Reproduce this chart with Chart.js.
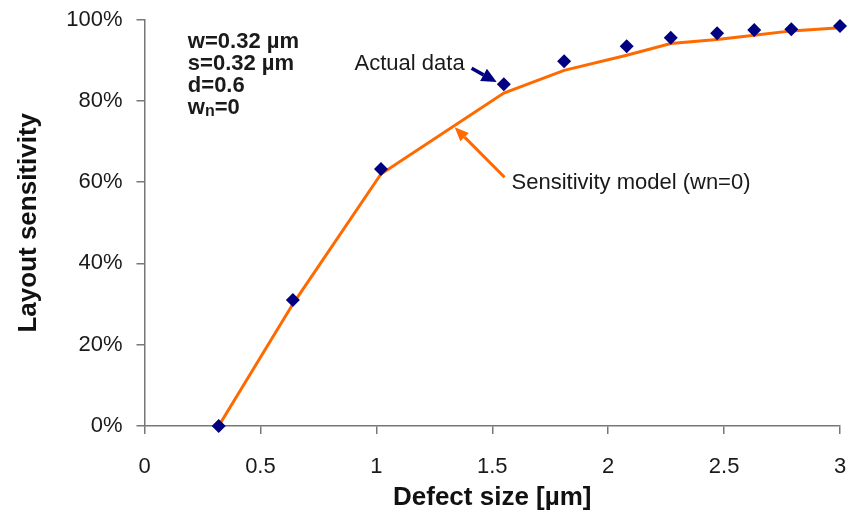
<!DOCTYPE html>
<html>
<head>
    <title>Layout sensitivity</title>
    <script src="https://cdn.jsdelivr.net/npm/chart.js"></script>
    <style>
        body { margin: 0; padding: 0; background: #fff; overflow: hidden; }
        #wrap { position: relative; width: 847px; height: 514px; }
    </style>
</head>
<body>
    <div id="wrap"><canvas id="myChart"></canvas></div>

    <script>
        // Datos
        const defectSize = [0.32, 0.64, 1.02, 1.55, 1.81, 2.08, 2.27, 2.47, 2.63, 2.79, 3.0];
        const actualData = [0.0, 0.31, 0.632, 0.841, 0.897, 0.934, 0.955, 0.966, 0.974, 0.976, 0.984];
        const modelData  = [0.0, 0.30, 0.62, 0.819, 0.875, 0.912, 0.941, 0.951, 0.961, 0.972, 0.980];
        const xTicks = [0, 0.5, 1, 1.5, 2, 2.5, 3];
        const yTicks = [0, 0.2, 0.4, 0.6, 0.8, 1.0];
        const paramLines = ['w=0.32 µm', 's=0.32 µm', 'd=0.6', 'wn=0'];

        const FONT = "'Liberation Sans', Arial, sans-serif";
        const ORANGE = '#ff6a00';
        const NAVY = '#000080';

        function arrow(ctx, x1, y1, x2, y2, color, width, len, half) {
            const a = Math.atan2(y2 - y1, x2 - x1);
            const bx = x2 - len * Math.cos(a), by = y2 - len * Math.sin(a);
            ctx.save();
            ctx.strokeStyle = color;
            ctx.fillStyle = color;
            ctx.lineWidth = width;
            ctx.beginPath();
            ctx.moveTo(x1, y1);
            ctx.lineTo(bx, by);
            ctx.stroke();
            ctx.beginPath();
            ctx.moveTo(x2, y2);
            ctx.lineTo(bx + half * Math.sin(a), by - half * Math.cos(a));
            ctx.lineTo(bx - half * Math.sin(a), by + half * Math.cos(a));
            ctx.closePath();
            ctx.fill();
            ctx.restore();
        }

        // Anotaciones (texto y flechas)
        const notes = {
            id: 'notes',
            afterDatasetsDraw(chart) {
                const ctx = chart.ctx;
                const sx = chart.scales.x, sy = chart.scales.y;
                const px = v => sx.getPixelForValue(v);
                const py = v => sy.getPixelForValue(v);
                ctx.save();
                ctx.fillStyle = '#1a1a1a';
                ctx.textBaseline = 'middle';

                ctx.font = 'bold 22px ' + FONT;
                ctx.textAlign = 'left';
                paramLines.forEach((t, i) => {
                    const y = 42 + i * 22;
                    if (t === 'wn=0') {
                        ctx.fillText('w', px(0.187), y);
                        const w1 = ctx.measureText('w').width;
                        ctx.font = 'bold 16px ' + FONT;
                        ctx.fillText('n', px(0.187) + w1, y + 4);
                        const w2 = ctx.measureText('n').width;
                        ctx.font = 'bold 22px ' + FONT;
                        ctx.fillText('=0', px(0.187) + w1 + w2, y);
                    } else {
                        ctx.fillText(t, px(0.187), y);
                    }
                });

                ctx.font = '22px ' + FONT;
                ctx.textAlign = 'right';
                ctx.fillText('Actual data', px(1.381), py(0.89));
                ctx.textAlign = 'left';
                ctx.fillText('Sensitivity model (wn=0)', px(1.583), py(0.597));
                ctx.restore();

                arrow(ctx, px(1.411), py(0.88), px(1.519), py(0.846), NAVY, 3.5, 15, 7);
                arrow(ctx, px(1.553), py(0.612), px(1.338), py(0.735), ORANGE, 3, 14, 6);
            }
        };

        new Chart(document.getElementById('myChart'), {
            type: 'scatter',
            data: {
                datasets: [{
                    label: 'Sensitivity model (wn=0)',
                    data: defectSize.map((x, i) => ({ x: x, y: modelData[i] })),
                    showLine: true,
                    borderColor: ORANGE,
                    borderWidth: 3,
                    pointRadius: 0,
                    tension: 0,
                    clip: false,
                    order: 2
                }, {
                    label: 'Actual data',
                    data: defectSize.map((x, i) => ({ x: x, y: actualData[i] })),
                    pointStyle: 'rectRot',
                    pointRadius: 7,
                    backgroundColor: NAVY,
                    borderColor: NAVY,
                    borderWidth: 0,
                    clip: false,
                    order: 1
                }]
            },
            options: {
                responsive: true,
                maintainAspectRatio: false,
                animation: false,
                layout: { padding: { top: 19.5, right: 6, left: 0, bottom: 0 } },
                plugins: { legend: { display: false }, tooltip: { enabled: false } },
                scales: {
                    x: {
                        type: 'linear',
                        min: 0, max: 3,
                        afterBuildTicks: s => { s.ticks = xTicks.map(v => ({ value: v })); },
                        afterFit: s => { s.height = 88; s.paddingLeft = 0; s.paddingRight = 0; },
                        border: { color: '#777', width: 1.5 },
                        grid: { drawOnChartArea: false, tickLength: 8, color: '#777', lineWidth: 1.5 },
                        ticks: {
                            color: '#1a1a1a', padding: 20,
                            font: { family: FONT, size: 22 },
                            callback: v => String(v)
                        },
                        title: {
                            display: true, text: 'Defect size [µm]', color: '#111',
                            font: { family: FONT, size: 26, weight: 'bold' },
                            padding: { top: 0, bottom: 1 }
                        }
                    },
                    y: {
                        type: 'linear',
                        min: 0, max: 1,
                        afterBuildTicks: s => { s.ticks = yTicks.map(v => ({ value: v })); },
                        afterFit: s => { s.width = 144.5; s.paddingTop = 0; s.paddingBottom = 0; },
                        border: { color: '#777', width: 1.5 },
                        grid: { drawOnChartArea: false, tickLength: 8, color: '#777', lineWidth: 1.5 },
                        ticks: {
                            color: '#1a1a1a', padding: 14,
                            font: { family: FONT, size: 22 },
                            callback: v => Math.round(v * 100) + '%'
                        },
                        title: {
                            display: true, text: 'Layout sensitivity', color: '#111',
                            font: { family: FONT, size: 26, weight: 'bold' },
                            padding: { top: 13, bottom: 0 }
                        }
                    }
                }
            },
            plugins: [notes]
        });
    </script>
</body>
</html>
